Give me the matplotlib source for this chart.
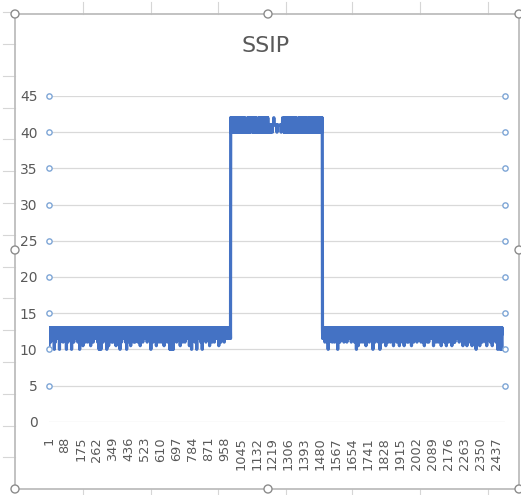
#!/usr/bin/env python3
"""Draw the SSIP trace as an Excel-style line chart and save it to out.png."""

from __future__ import annotations

import matplotlib

matplotlib.use("Agg")
import matplotlib.pyplot as plt
import numpy as np
from matplotlib.patches import Circle


WIDTH_PX = 521
HEIGHT_PX = 495
DPI = 100

TITLE = "SSIP"

# Samples are stored in half-unit steps: value = base + digit / 2.
LOW_BASE = 10
HIGH_BASE = 40

LOW_LEFT = """
0463646362 6463646364 6463646360 6364626463 6364636463 6463646064 6263646364 6364636264 6463646364 6364606463
6462646364 6364636463 6460636463 6364626463 6463646364 6364636263 6463646064 6364636263 6364616463 6463646362
6364636463 6263646364 6364636163 6463646364 6264636463 6364636463 6463626364 6360646063 6460636463 6364626463
6463646364 6364606463 6364616463 6463646364 6263646362 6364636463 6463616364 6364636463 6463646064 6364626463
6463646364 6364636263 6460636462 6364636463 6463616364 6364636463 6263646362 6364636463 6463626364 6364636163
6463646364 6264636463 6364636463 6463626364 6364636463 6463606364 6364636263 6463646364 6364616463 6463646362
6364636463 6263646364 6364636163 6463646364 6364626463 6364636460 6060606060 6060606063 6463646364 6364626463
6463646364 6364616463 6463646362 6364636463 6263646364 6364636463 6463616364 6364636064 6463646364 6364626463
6463606364 6364636463 6463646263 6364606463 6463646364 6364626463 6463646364 6364616463 6463646362 6364636463
6263646364 6364636463 6463616364 6364636263 6463646364 6364626463 6364636463 6463646364 6364636463
"""

HIGH = """
4040414040 4140404041 4040304040 4041404041 4040414040 3040404140 4040404040 4140404020 2020212020 2040414040
4040404140 4141424141 4040404040 4041404040 4020202020 2120404040 4142414140 4040404140 4040202020 2040404040
4040202120 2020202220 2222222022 2222242222 2222222222 2202222222 2222222222 2222202222 2224222222 2040204040
4040404040 4041404040 4040404140 4040404040 4140404041 4040404040 2020212020 2040404040 4041404140 4040404040
4140404041 4040402020 2020202040 4040414040 4040404040 4140404140 4040404040 4041404040 4040414040 4040404041
"""

LOW_RIGHT = """
6364636463 6462636364 6364626463 6064636263 6463646364 6362636463 6463626364 6364636263 6460636463 6364626463
6463646364 6364636263 6463646364 6362646463 6463646364 6364636263 6463646364 6364626463 6463606364 6364616463
6463646362 6364636463 6263646364 6364636163 6364636463 6463626364 6364636463 6463606364 6364636263 6463646364
6364626463 6460636463 6364636263 6463646364 6364616463 6463646362 6364636463 6263646364 6364636163 6463646364
6364626463 6463646361 6364636463 6463626364 6364616463 6463646364 6263646362 6364636463 6463616364 6364636263
6364636463 6463626364 6364636463 6463646263 6364636462 6364616463 6463646364 6263646362 6364636463 6463646364
6364616463 6463646362 6364636463 6263646364 6364636163 6463646364 6364626463 6463616364 6364636263 6463646364
6364616463 6463646362 6263646363 6364636463 6463626364 6364636463 6364616463 6463646362 6364636163 6463646364
6364626463 6463616364 6364636463 6463646064 6364626463 6364636163 6463646364 6264636463 6463646362 6364616463
6463646364 6364626463 6463616364 6364636463 6463626364 6364606463 6463636064 6364636460
"""

Y_TICKS = [0, 5, 10, 15, 20, 25, 30, 35, 40, 45]
X_TICKS = [
    1, 88, 175, 262, 349, 436, 523, 610, 697, 784, 871, 958, 1045, 1132, 1219,
    1306, 1393, 1480, 1567, 1654, 1741, 1828, 1915, 2002, 2089, 2176, 2263, 2350, 2437,
]
X_AXIS_END = 2485.5

COLORS = {
    "series": "#4472C4",
    "grid": "#D9D9D9",
    "text": "#595959",
    "grid_handle": "#7EA6D6",
    "frame": "#BDBDBD",
    "frame_handle": "#8C8C8C",
    "sheet": "#D6D6D6",
}

NARROW = ["Liberation Sans Narrow", "DejaVu Sans"]


def decode(text: str, base: float) -> list[float]:
    return [base + int(c) / 2 for c in text if c.isdigit()]


def fx(px: float) -> float:
    return px / WIDTH_PX


def fy(px: float) -> float:
    return 1 - px / HEIGHT_PX


def draw_frame(fig: plt.Figure) -> None:
    """Chart border, resize handles and the sheet grid peeking around it."""
    bg = fig.add_axes([0, 0, 1, 1])
    bg.set_xlim(0, WIDTH_PX)
    bg.set_ylim(HEIGHT_PX, 0)
    bg.axis("off")

    for x in (83, 151, 218, 286, 352, 420, 488):
        bg.plot([x, x], [2, 14], color=COLORS["sheet"], lw=0.8)
        bg.plot([x, x], [489, 495], color=COLORS["sheet"], lw=0.8)
    for k in range(15):
        y = 44 + 31.8 * (k - 1)
        bg.plot([3, 15], [y, y], color=COLORS["sheet"], lw=0.8)

    left, top, right, bottom = 15, 14, 519, 489
    bg.plot([left, right, right, left, left], [top, top, bottom, bottom, top],
            color=COLORS["frame"], lw=1.3)
    mid_x, mid_y = 268, 250
    for x, y in [(left, top), (mid_x, top), (right, top), (left, mid_y),
                 (right, mid_y), (left, bottom), (mid_x, bottom), (right, bottom)]:
        bg.add_patch(Circle((x, y), 4, facecolor="white", edgecolor=COLORS["frame_handle"],
                            lw=1, zorder=5))


def main() -> None:
    values = decode(LOW_LEFT, LOW_BASE) + decode(HIGH, HIGH_BASE) + decode(LOW_RIGHT, LOW_BASE)
    x = np.arange(1, len(values) + 1)

    fig = plt.figure(figsize=(WIDTH_PX / DPI, HEIGHT_PX / DPI), dpi=DPI)
    fig.patch.set_facecolor("white")
    draw_frame(fig)

    plot_left, plot_right = 49, 505
    plot_top, plot_bottom = 96, 421.7
    ax = fig.add_axes([fx(plot_left), fy(plot_bottom),
                       (plot_right - plot_left) / WIDTH_PX,
                       (plot_bottom - plot_top) / HEIGHT_PX])
    ax.patch.set_alpha(0)
    ax.set_xlim(1, X_AXIS_END)
    ax.set_ylim(Y_TICKS[0], Y_TICKS[-1])
    for spine in ax.spines.values():
        spine.set_visible(False)

    for y in Y_TICKS:
        ax.axhline(y, color=COLORS["grid"], lw=0.9, zorder=1)

    ax.plot(x, values, color=COLORS["series"], lw=2.3, zorder=3)

    # selected-gridline handles at both ends of each gridline
    ends = Y_TICKS[1:]
    ax.plot([1] * len(ends), ends, "o", ms=3.8, mfc="white", mec=COLORS["grid_handle"],
            mew=1.0, zorder=4, clip_on=False)
    ax.plot([X_AXIS_END] * len(ends), ends, "o", ms=3.8, mfc="white",
            mec=COLORS["grid_handle"], mew=1.0, zorder=4, clip_on=False)

    ax.set_yticks(Y_TICKS)
    ax.set_yticklabels([str(v) for v in Y_TICKS], family=NARROW, fontsize=10,
                       color=COLORS["text"])
    ax.tick_params(axis="y", length=0, pad=8.3)

    ax.set_xticks(X_TICKS)
    ax.set_xticklabels([str(v) for v in X_TICKS], rotation=90, family="DejaVu Sans",
                       fontsize=9.3, color=COLORS["text"])
    ax.tick_params(axis="x", length=0, pad=11)

    fig.text(fx(266), fy(52), TITLE, ha="center", va="baseline", fontsize=16,
             family=NARROW, color=COLORS["text"])

    fig.savefig("out.png", dpi=DPI)
    plt.close(fig)


if __name__ == "__main__":
    main()
